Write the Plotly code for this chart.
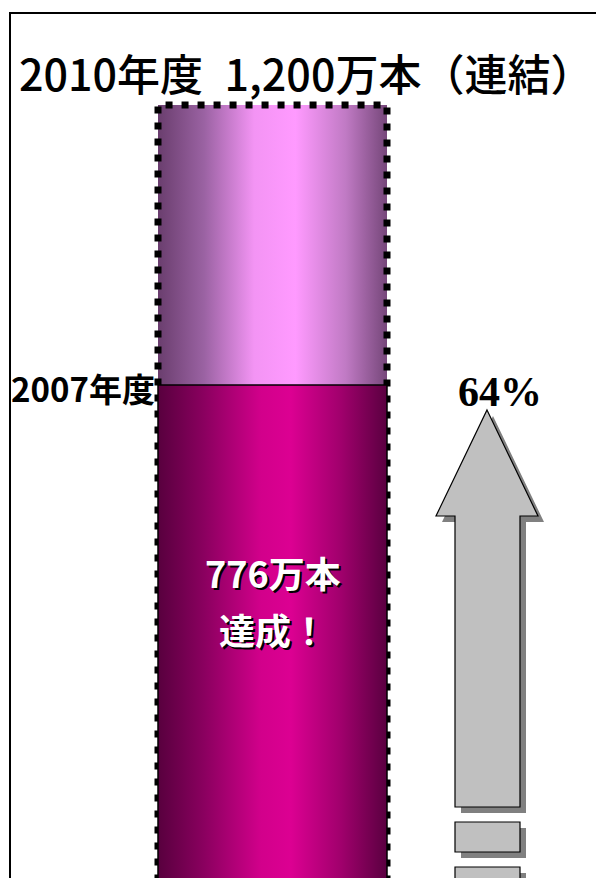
import plotly.graph_objects as go

# ---- data ----
categories = ["連結"]
achieved_2007 = [776]      # 万本 (2007年度 実績)
target_2010 = [1200]       # 万本 (2010年度 目標)
achievement_pct = [64]     # 達成率 %
year_labels = ["2007年度"]

W, H = 596, 878

# ---- layout helpers (pixels -> paper) ----
def px(x):
    return x / W

def py(y):
    return 1 - y / H

# axis scaling: bar spans 229 px, value axis mapped so the chart fits the frame
bar_w = 1.0
x_px_per_unit = 229.0
bar_left_px = 158.0
xr = [-bar_w / 2 - bar_left_px / x_px_per_unit,
      bar_w / 2 + (W - bar_left_px - 229.0) / x_px_per_unit]
y_px_per_unit = 280.0 / 424.0
ach_px = 385.0
yr = [achieved_2007[0] - (H - ach_px) / y_px_per_unit,
      achieved_2007[0] + ach_px / y_px_per_unit]

bottom_scale = [[0, "#58003e"], [0.2, "#8a005f"], [0.45, "#d2008b"], [0.58, "#dc0092"],
                [0.8, "#a0006c"], [1, "#5a0040"]]
top_scale = [[0, "#6a3e6e"], [0.2, "#9a62a2"], [0.42, "#f394f4"], [0.6, "#ff9aff"],
             [0.82, "#c07ac4"], [1, "#76477a"]]

CJK = "Noto Sans CJK JP"

fig = go.Figure()

for i, cat in enumerate(categories):
    xc = i
    x0, x1 = xc - bar_w / 2, xc + bar_w / 2
    a, t = achieved_2007[i], target_2010[i]
    # remaining portion up to the target
    fig.add_trace(go.Scatter(
        x=[x0, x1, x1, x0, x0], y=[a, a, t, t, a], mode="lines", fill="toself",
        line=dict(width=0, color="rgba(0,0,0,0)"),
        fillgradient=dict(type="horizontal", colorscale=top_scale),
        hoverinfo="skip", showlegend=False))
    # dotted target outline
    fig.add_trace(go.Scatter(
        x=[x0, x0, x1, x1], y=[0, t, t, 0], mode="lines",
        line=dict(width=7, color="black", dash="7px,9px"),
        hoverinfo="skip", showlegend=False))
    # achieved portion
    fig.add_trace(go.Scatter(
        x=[x0, x1, x1, x0, x0], y=[0, 0, a, a, 0], mode="lines", fill="toself",
        line=dict(width=1.5, color="black"),
        fillgradient=dict(type="horizontal", colorscale=bottom_scale),
        hoverinfo="skip", showlegend=False))

    fig.add_annotation(x=x0, y=a, xref="x", yref="y", text=year_labels[i],
                       xanchor="right", yanchor="middle", xshift=-1, yshift=-3,
                       showarrow=False,
                       font=dict(family=CJK, size=33, color="black", weight="bold"))
    white_font = dict(family=CJK, size=36, color="white",
                      weight="bold", shadow="2px 2px 0px #000000")
    fig.add_annotation(x=xc, y=py(572), xref="x", yref="paper",
                       text=f"{a}万本", showarrow=False,
                       xanchor="center", yanchor="middle", font=white_font)
    fig.add_annotation(x=xc, y=py(629), xref="x", yref="paper",
                       text="達成！", showarrow=False,
                       xanchor="center", yanchor="middle", font=white_font)

# title
fig.add_annotation(x=px(595), y=py(72), xref="paper", yref="paper",
                   text=f"2010年度\u2002{target_2010[0]:,}万本（連結）", showarrow=False,
                   xanchor="right", yanchor="middle",
                   font=dict(family=CJK, size=43, color="black", weight=500))

# percentage
fig.add_annotation(x=px(500), y=py(392), xref="paper", yref="paper",
                   text=f"{achievement_pct[0]}%", showarrow=False,
                   xanchor="center", yanchor="middle",
                   font=dict(family="Liberation Serif, Times New Roman, serif", size=42,
                             color="black", weight="bold"))

# ---- decorative arrow ----
def path(points):
    return "M " + " L ".join(f"{px(x):.5f},{py(y):.5f}" for x, y in points) + " Z"

arrow = [(487, 410), (538, 516), (520, 516), (520, 807), (455, 807), (455, 516), (436, 516)]
rects = [[(455, 822), (520, 822), (520, 852), (455, 852)],
         [(455, 867), (520, 867), (520, 897), (455, 897)]]
shapes = []
off = 6
for pts in [arrow] + rects:
    shapes.append(dict(type="path", xref="paper", yref="paper",
                       path=path([(x + off, y + off) for x, y in pts]),
                       fillcolor="#808080", line=dict(width=0)))
    shapes.append(dict(type="path", xref="paper", yref="paper",
                       path=path(pts), fillcolor="#c0c0c0",
                       line=dict(width=1.2, color="black")))

# frame
shapes.append(dict(type="rect", xref="paper", yref="paper",
                   x0=px(10), x1=1.05, y0=-0.05, y1=py(13),
                   line=dict(width=2, color="black"), fillcolor="rgba(0,0,0,0)"))

fig.update_layout(
    width=W, height=H, margin=dict(l=0, r=0, t=0, b=0),
    paper_bgcolor="white", plot_bgcolor="white",
    xaxis=dict(range=xr, visible=False, fixedrange=True),
    yaxis=dict(range=yr, visible=False, fixedrange=True),
    shapes=shapes, showlegend=False,
)

fig.write_html("out.html")
